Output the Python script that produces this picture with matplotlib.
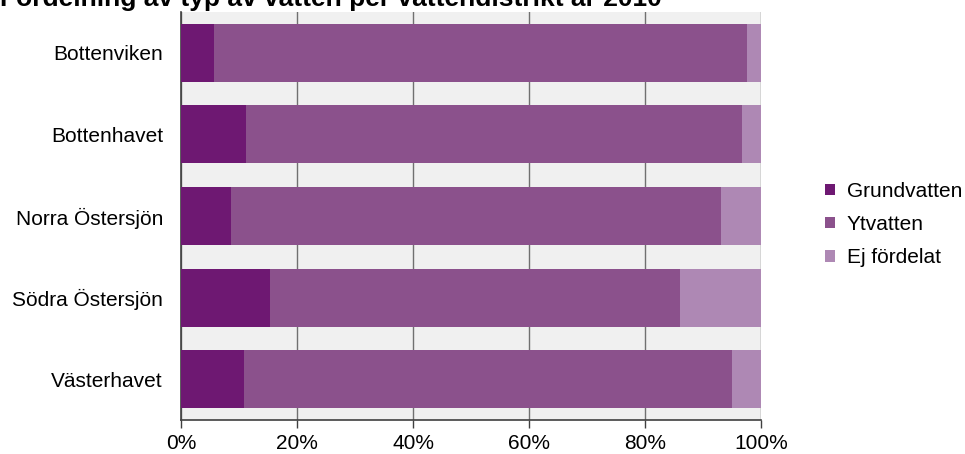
import matplotlib.pyplot as plt
import numpy as np

plt.rcParams['font.family'] = ['Liberation Sans', 'DejaVu Sans']

districts = ['Bottenviken', 'Bottenhavet', 'Norra Östersjön', 'Södra Östersjön', 'Västerhavet']
grundvatten = [5.6, 11.2, 8.6, 15.4, 10.8]
ytvatten = [92.0, 85.5, 84.5, 70.6, 84.2]
ej_fordelat = [2.4, 3.3, 6.9, 14.0, 5.0]
series = ['Grundvatten', 'Ytvatten', 'Ej fördelat']
colors = ['#6e1872', '#8b518c', '#ae88b4']
title = 'Fördelning av typ av vatten per vattendistrikt år 2010'

fig = plt.figure(figsize=(9.65, 4.54), dpi=100)
ax = fig.add_axes([0.1876, 0.0749, 0.601, 0.8987])
ax.set_facecolor('#f0f0f0')

y = np.arange(len(districts))
left = np.zeros(len(districts))
for vals, name, c in zip([grundvatten, ytvatten, ej_fordelat], series, colors):
    ax.barh(y, vals, left=left, height=0.71, color=c, label=name, zorder=3)
    left += np.array(vals)

ax.set_xlim(0, 100)
ax.set_ylim(len(districts) - 0.5, -0.5)
ax.set_yticks(y)
ax.set_yticklabels(districts, fontsize=15)
ax.set_xticks([0, 20, 40, 60, 80, 100])
ax.set_xticklabels(['0%', '20%', '40%', '60%', '80%', '100%'], fontsize=15)
ax.xaxis.grid(True, color='#707070', linewidth=1, zorder=0)
ax.set_axisbelow(True)
ax.tick_params(axis='x', length=6, width=1, color='#404040', pad=4)
ax.tick_params(axis='y', length=0, pad=13)
for s in ['top', 'right']:
    ax.spines[s].set_visible(False)
for s in ['left', 'bottom']:
    ax.spines[s].set_color('#404040')
    ax.spines[s].set_linewidth(1.2)

leg = fig.legend(*ax.get_legend_handles_labels(), loc='center left',
                 bbox_to_anchor=(0.855, 0.5055), frameon=False,
                 fontsize=15, handlelength=0.48, handleheight=0.48,
                 handletextpad=0.57, labelspacing=0.68,
                 borderpad=0, borderaxespad=0)

fig.text(0.0, 1 - 6 / 454, title, fontsize=19, fontweight='bold',
         ha='left', va='baseline')

fig.savefig('out.png', dpi=100)
